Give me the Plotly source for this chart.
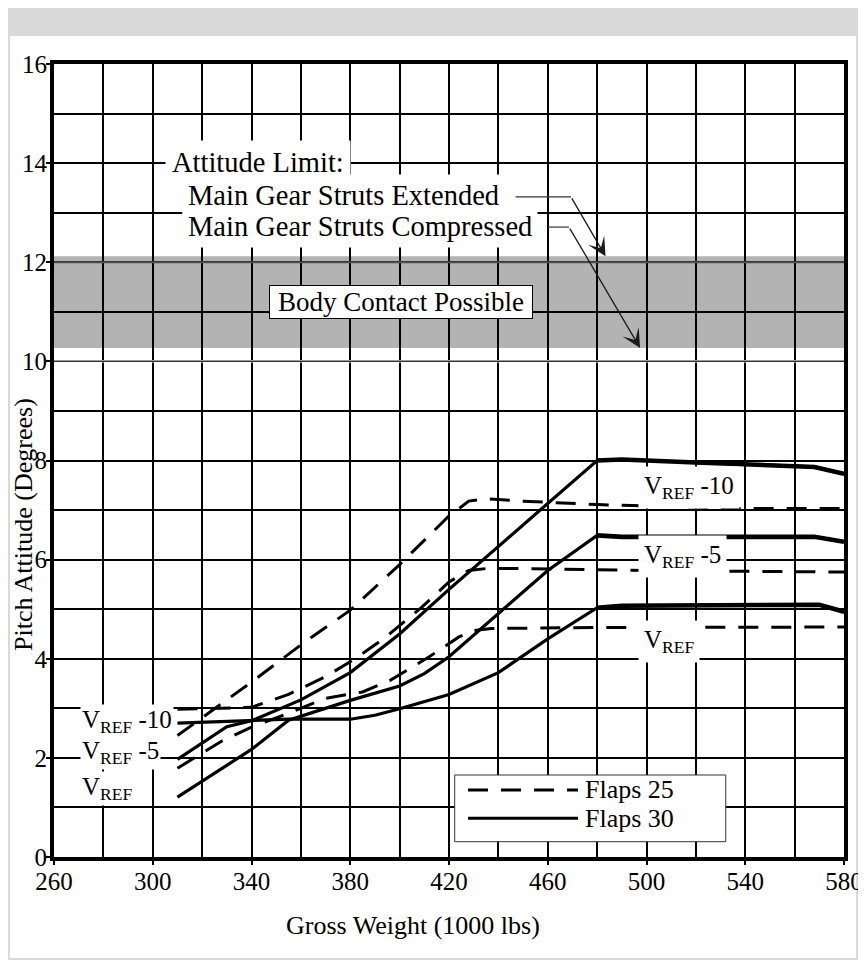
import plotly.graph_objects as go

FONT = "Liberation Serif"

# ---------------- data ----------------
# Flaps 30 (solid lines)
f30_vref10_x = [310, 330, 340, 360, 380, 400, 420, 440, 460, 480, 490, 520, 540, 568, 580]
f30_vref10_y = [1.97, 2.63, 2.75, 3.17, 3.72, 4.50, 5.40, 6.27, 7.15, 8.00, 8.02, 7.96, 7.93, 7.87, 7.73]

f30_vref5_x = [310, 340, 355, 380, 400, 410, 420, 440, 460, 480, 490, 568, 580]
f30_vref5_y = [1.21, 2.17, 2.76, 3.16, 3.45, 3.70, 4.04, 4.91, 5.78, 6.49, 6.46, 6.46, 6.36]

f30_vref_x = [310, 330, 355, 380, 390, 400, 412, 420, 440, 460, 480, 490, 570, 580]
f30_vref_y = [2.70, 2.74, 2.78, 2.78, 2.86, 2.99, 3.16, 3.28, 3.72, 4.40, 5.03, 5.07, 5.09, 4.95]

# Flaps 25 (dashed lines)
f25_vref10_x = [310, 340, 360, 380, 400, 420, 428, 435, 450, 480, 520, 540, 580]
f25_vref10_y = [2.45, 3.53, 4.28, 4.98, 5.90, 6.88, 7.18, 7.23, 7.18, 7.11, 7.06, 7.03, 7.03]

f25_vref5_x = [310, 325, 340, 355, 370, 382, 394, 409, 420, 428, 435, 450, 480, 500, 580]
f25_vref5_y = [2.98, 3.00, 3.02, 3.28, 3.64, 4.00, 4.42, 5.04, 5.55, 5.78, 5.82, 5.82, 5.79, 5.78, 5.75]

f25_vref_x = [310, 328, 340, 355, 370, 385, 396, 412, 424, 430, 437, 480, 580]
f25_vref_y = [1.79, 2.34, 2.62, 2.90, 3.20, 3.33, 3.56, 4.04, 4.44, 4.57, 4.61, 4.63, 4.64]

# Attitude limits (degrees)
limit_extended = 12.12
limit_compressed = 10.27

x_ticks = [260, 300, 340, 380, 420, 460, 500, 540, 580]
y_ticks = [0, 2, 4, 6, 8, 10, 12, 14, 16]

DASH = "20px,13px"

fig = go.Figure()

flaps25 = [("V<sub>REF</sub> -10", f25_vref10_x, f25_vref10_y),
           ("V<sub>REF</sub> -5", f25_vref5_x, f25_vref5_y),
           ("V<sub>REF</sub>", f25_vref_x, f25_vref_y)]
flaps30 = [("V<sub>REF</sub> -10", f30_vref10_x, f30_vref10_y),
           ("V<sub>REF</sub> -5", f30_vref5_x, f30_vref5_y),
           ("V<sub>REF</sub>", f30_vref_x, f30_vref_y)]

for name, xs, ys in flaps25:
    fig.add_trace(go.Scatter(x=xs, y=ys, mode="lines", name="Flaps 25 " + name,
                             line=dict(color="black", width=3, dash=DASH)))
for name, xs, ys in flaps30:
    fig.add_trace(go.Scatter(x=xs, y=ys, mode="lines", name="Flaps 30 " + name,
                             line=dict(color="black", width=3.2)))
    px = [x for x in xs if x >= 480]
    py = [y for x, y in zip(xs, ys) if x >= 480]
    fig.add_trace(go.Scatter(x=px, y=py, mode="lines", name="Flaps 30 " + name,
                             line=dict(color="black", width=4.6), showlegend=False))

shapes = [
    # white panel
    dict(type="rect", xref="paper", yref="paper", x0=-0.0557, x1=1.0152, y0=-0.1274, y1=1.0353,
         fillcolor="white", line=dict(width=0), layer="below"),
    # body contact band
    dict(type="rect", xref="x", yref="y", x0=260, x1=580, y0=limit_compressed, y1=limit_extended,
         fillcolor="#b3b3b3", line=dict(width=0), layer="below"),
    # lighter grid lines at 12 and 10 deg (as drawn in the original)
    dict(type="line", xref="x", yref="y", x0=260, x1=580, y0=12, y1=12,
         line=dict(color="#505050", width=2), layer="between"),
    dict(type="line", xref="x", yref="y", x0=260, x1=580, y0=10, y1=10,
         line=dict(color="white", width=2.2), layer="between"),
    dict(type="line", xref="x", yref="y", x0=260, x1=580, y0=10, y1=10,
         line=dict(color="#303030", width=1.3), layer="between"),
    # leader line horizontal parts
    dict(type="line", xref="x", yref="y", x0=447.0, x1=469.4, y0=13.32, y1=13.32,
         line=dict(color="#333333", width=1.2)),
    dict(type="line", xref="x", yref="y", x0=460.1, x1=468.6, y0=12.71, y1=12.71,
         line=dict(color="#333333", width=1.2)),
    # manual legend
    dict(type="rect", xref="paper", yref="paper", x0=0.5072, x1=0.8503, y0=0.0193, y1=0.1034,
         fillcolor="white", line=dict(color="#333333", width=1), layer="above"),
    dict(type="line", xref="paper", yref="paper", x0=0.5241, x1=0.6633, y0=0.0845, y1=0.0845,
         line=dict(color="black", width=3, dash=DASH), layer="above"),
    dict(type="line", xref="paper", yref="paper", x0=0.5241, x1=0.6633, y0=0.0488, y1=0.0488,
         line=dict(color="black", width=3), layer="above"),
]

ann = []
def text_ann(text, x, y, size, xanchor="left", bg="white", pad=4, **kw):
    d = dict(text=text, x=x, y=y, xref="x", yref="y", showarrow=False, xanchor=xanchor,
             yanchor="middle", font=dict(family=FONT, size=size, color="black"),
             bgcolor=bg, borderpad=pad)
    d.update(kw)
    ann.append(d)

text_ann("Attitude Limit:", 305.0, 14.01, 28.5, pad=6)
text_ann("Main Gear Struts Extended", 311.8, 13.34, 28.5, pad=5)
text_ann("Main Gear Struts Compressed", 311.8, 12.72, 28.5, pad=5)
text_ann("Body Contact Possible", 400.7, 11.20, 27, xanchor="center", pad=0,
         bordercolor="black", borderwidth=1, width=262, height=32)

# arrows
ann.append(dict(text="", x=483.4, y=limit_extended, ax=469.4, ay=13.32, axref="x", ayref="y",
                xref="x", yref="y", showarrow=True, arrowhead=3, arrowsize=2.4, arrowwidth=1.3,
                arrowcolor="#1a1a1a", standoff=0))
ann.append(dict(text="", x=497.4, y=limit_compressed, ax=468.6, ay=12.71, axref="x", ayref="y",
                xref="x", yref="y", showarrow=True, arrowhead=3, arrowsize=2.4, arrowwidth=1.3,
                arrowcolor="#1a1a1a", standoff=0))

# curve labels (right)
text_ann("V<sub>REF</sub> -10", 496.6, 7.45, 25, pad=5)
text_ann("V<sub>REF</sub> -5", 496.6, 6.07, 25, pad=5)
text_ann("V<sub>REF</sub>", 496.6, 4.34, 25, pad=5)
# curve labels (left)
text_ann("V<sub>REF</sub>", 270.5, 1.39, 25, pad=1)
text_ann("V<sub>REF</sub> -5", 270.5, 2.10, 25, pad=1)
text_ann("V<sub>REF</sub> -10", 270.5, 2.74, 25, pad=1)

# legend texts
for t, yv in [("Flaps 25", 0.0845), ("Flaps 30", 0.0488)]:
    ann.append(dict(text=t, x=0.6696, y=yv, xref="paper", yref="paper", showarrow=False,
                    xanchor="left", yanchor="middle", font=dict(family=FONT, size=26, color="black")))

# axis titles
ann.append(dict(text="Gross Weight (1000 lbs)", x=0.4544, y=-0.0858, xref="paper", yref="paper",
                showarrow=False, xanchor="center", yanchor="middle",
                font=dict(family=FONT, size=26, color="black")))
ann.append(dict(text="Pitch Attitude (Degrees)", x=-0.038, y=0.42, xref="paper", yref="paper",
                showarrow=False, xanchor="center", yanchor="middle", textangle=-90,
                font=dict(family=FONT, size=26, color="black")))

axis_common = dict(
    ticks="outside", ticklen=4, tickwidth=2, tickcolor="black",
    showgrid=True, gridcolor="black", gridwidth=2,
    showline=True, linecolor="black", linewidth=4, mirror=True, zeroline=False,
    tickfont=dict(family=FONT, size=25, color="black"), automargin=False, fixedrange=True,
)

# page is drawn with an 8 px body offset, so the figure is 8 px smaller each way
fig.update_layout(
    width=858, height=952,
    margin=dict(l=46, r=22, t=56, b=103, autoexpand=False),
    paper_bgcolor="#d9d9d9", plot_bgcolor="white",
    showlegend=False,
    font=dict(family=FONT, color="black", size=24),
    shapes=shapes, annotations=ann,
    xaxis=dict(range=[260, 580], tickmode="array", tickvals=x_ticks, ticklabelstandoff=-5,
               minor=dict(dtick=20, tick0=260, showgrid=True, gridcolor="black", gridwidth=2, ticks=""),
               **axis_common),
    yaxis=dict(range=[0, 16], tickmode="array", tickvals=y_ticks, ticklabelstandoff=-6,
               minor=dict(dtick=1, tick0=0, showgrid=True, gridcolor="black", gridwidth=2, ticks=""),
               **axis_common),
)

fig.write_html("out.html")
